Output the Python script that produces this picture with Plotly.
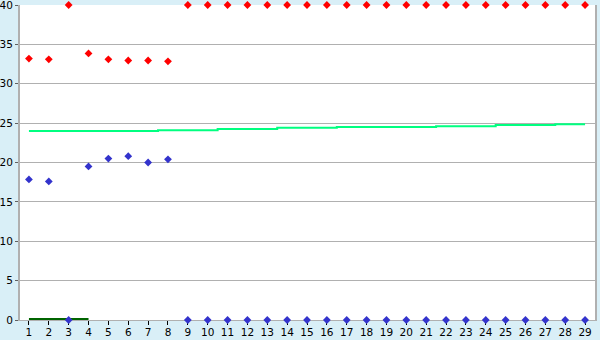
import plotly.graph_objects as go

x_vals = list(range(1, 30))
red_vals = [33.2, 33.1, 40, 33.85, 33.1, 32.95, 32.95, 32.85] + [40] * 21
blue_vals = [17.85, 17.6, 0, 19.5, 20.5, 20.8, 20.0, 20.4] + [0] * 21
green_vals = ([24.0] * 7 + [24.1] * 3 + [24.25] * 3 + [24.4] * 3 + [24.5] * 5
              + [24.6] * 3 + [24.75] * 3 + [24.85] * 2)
dark_x = [1, 2, 3, 4]
dark_vals = [0, 0, 0, 0]
y_ticks = [0, 5, 10, 15, 20, 25, 30, 35, 40]

fig = go.Figure()
fig.add_trace(go.Scatter(x=x_vals, y=green_vals, mode="lines", line_shape="hvh",
                         line=dict(color="#00ff80", width=2), cliponaxis=False))
fig.add_trace(go.Scatter(x=dark_x, y=dark_vals, mode="lines",
                         line=dict(color="#006400", width=4), cliponaxis=False))
fig.add_trace(go.Scatter(x=x_vals, y=red_vals, mode="markers",
                         marker=dict(symbol="diamond", size=6, color="#ff0000"), cliponaxis=False))
fig.add_trace(go.Scatter(x=x_vals, y=blue_vals, mode="markers",
                         marker=dict(symbol="diamond", size=6, color="#3333cc"), cliponaxis=False))

fig.update_layout(
    width=600, height=340,
    margin=dict(l=20, r=5, t=5, b=20),
    paper_bgcolor="#d9eff7", plot_bgcolor="#ffffff",
    showlegend=False,
    font=dict(family="DejaVu Sans", size=11, color="#000000"),
)
fig.update_xaxes(range=[0.55, 29.5], tickvals=x_vals, ticktext=[str(v) for v in x_vals],
                 showgrid=False, zeroline=False, showline=True, linecolor="#b0b0b0", linewidth=1,
                 ticks="outside", ticklen=4, tickcolor="#000000", tickwidth=1,
                 ticklabelstandoff=-2, ticklabeloverflow="allow", layer="below traces",
                 tickfont=dict(size=10.5), automargin=False)
fig.update_yaxes(range=[0, 40], tickvals=y_ticks, ticktext=[str(v) for v in y_ticks],
                 showgrid=True, gridcolor="#b0b0b0", gridwidth=1, zeroline=False,
                 showline=True, linecolor="#b0b0b0", linewidth=2, mirror=True,
                 ticks="outside", ticklen=3, tickcolor="#606060", tickwidth=1,
                 ticklabeloverflow="allow", layer="below traces",
                 tickfont=dict(size=10.5), automargin=False)

fig.write_html("out.html")
